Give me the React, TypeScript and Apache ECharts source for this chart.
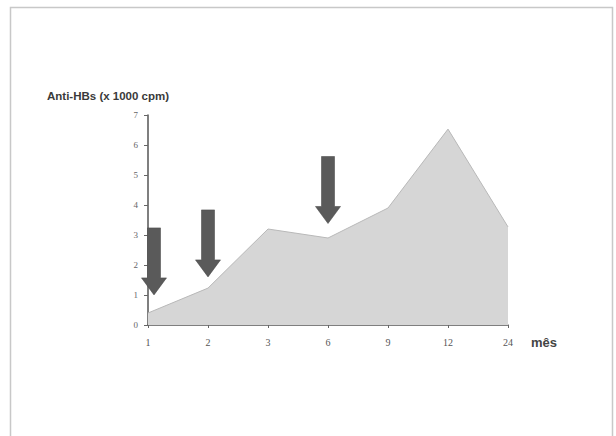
import React, { useEffect, useRef } from "react";
import * as echarts from "echarts";

const months = ["1", "2", "3", "6", "9", "12", "24"];
const antiHBs = [0.4, 1.23, 3.2, 2.9, 3.9, 6.53, 3.27];
const yTicks = [0, 1, 2, 3, 4, 5, 6, 7];
const arrowMonths = ["1", "2", "6"];
const arrowLevels = [2.12, 2.72, 4.5];
const arrowShift = [6, 0, 0];

const arrowPath = "path://M6,0 L19,0 L19,50 L25,50 L12.5,67 L0,50 L6,50 Z";

export default function App() {
  const ref = useRef<HTMLDivElement>(null);
  useEffect(() => {
    if (!ref.current) return;
    const chart = echarts.init(ref.current, undefined, { renderer: "svg" });
    chart.setOption({
      animation: false,
      backgroundColor: "#ffffff",
      grid: { left: 148, right: 108, top: 115, bottom: 111, containLabel: false },
      xAxis: {
        type: "category",
        data: months,
        boundaryGap: false,
        axisLine: { lineStyle: { color: "#555", width: 1.5 } },
        axisTick: { show: true, length: 3, lineStyle: { color: "#666" } },
        axisLabel: {
          margin: 12,
          fontFamily: "Liberation Serif",
          fontSize: 10,
          color: "#555",
        },
        splitLine: { show: false },
      },
      yAxis: {
        type: "value",
        min: yTicks[0],
        max: yTicks[yTicks.length - 1],
        interval: 1,
        axisLine: { show: true, lineStyle: { color: "#555", width: 1.5 } },
        axisTick: { show: true, length: 4, lineStyle: { color: "#666" } },
        axisLabel: {
          margin: 10,
          fontFamily: "Liberation Serif",
          fontSize: 9,
          color: "#666",
        },
        splitLine: { show: false },
      },
      series: [
        {
          type: "line",
          data: antiHBs,
          symbol: "none",
          lineStyle: { color: "#b8b8b8", width: 1 },
          areaStyle: { color: "#d6d6d6", opacity: 1 },
          z: 2,
          markPoint: {
            silent: true,
            symbol: arrowPath,
            symbolSize: [25, 67],
            label: { show: false },
            itemStyle: { color: "#5a5a5a", borderColor: "#4a4a4a", borderWidth: 0.5 },
            data: arrowMonths.map((m, i) => ({
              coord: [m, arrowLevels[i]],
              symbolOffset: [arrowShift[i], 0],
            })),
          },
        },
      ],
      graphic: [
        {
          type: "rect",
          shape: { x: 10.5, y: 7.5, width: 602, height: 440 },
          style: { fill: "none", stroke: "#c8c8c8", lineWidth: 1.5 },
          silent: true,
        },
        {
          type: "text",
          left: 47,
          top: 90,
          style: {
            text: "Anti-HBs (x 1000 cpm)",
            font: "bold 11.5px Arial, 'Liberation Sans', sans-serif",
            fill: "#3a3a3a",
          },
        },
        {
          type: "text",
          left: 531,
          top: 336,
          style: {
            text: "mês",
            font: "bold 13px Arial, 'Liberation Sans', sans-serif",
            fill: "#444",
          },
        },
      ],
    });
    return () => chart.dispose();
  }, []);
  return (
    <div
      ref={ref}
      style={{ position: "fixed", left: 0, top: 0, width: 616, height: 436 }}
    />
  );
}
